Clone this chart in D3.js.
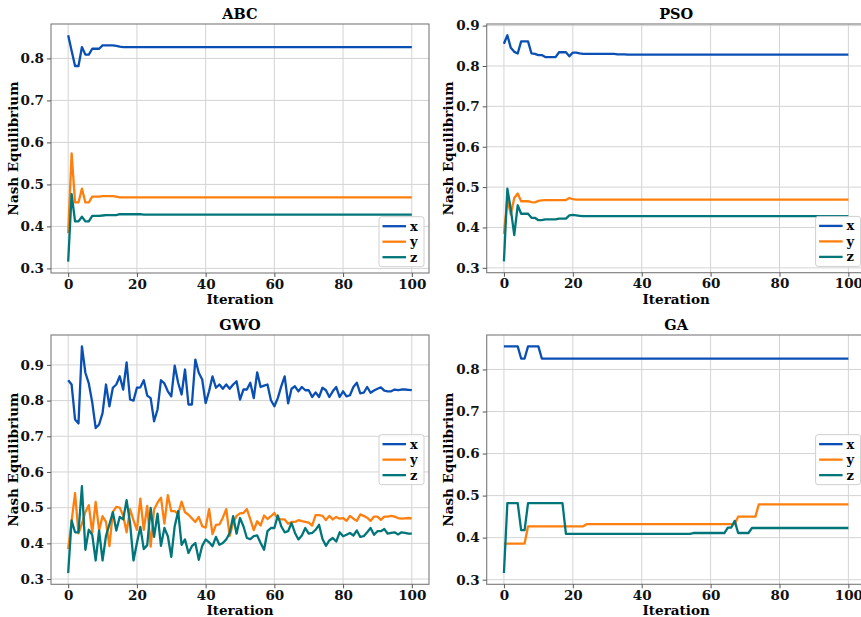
<!DOCTYPE html>
<html><head><meta charset="utf-8">
<script src="https://cdn.jsdelivr.net/npm/d3@7"></script>
<style>
body{margin:0;background:#fff;}
svg{display:block;}
text{font-family:"DejaVu Serif",serif;font-weight:bold;}
</style>
</head><body>
<svg id="c" width="861" height="617"></svg>
<script>
// ---------------- DATA ----------------
const iterations = d3.range(0, 101);
const xTickValues = [0, 20, 40, 60, 80, 100];
const yTickValues = [0.3, 0.4, 0.5, 0.6, 0.7, 0.8, 0.9];
const seriesNames = ["x", "y", "z"];
const panelTitles = ["ABC", "PSO", "GWO", "GA"];
const xLabel = "Iteration";
const yLabel = "Nash Equilibrium";

const abcX = [
0.855,0.818,0.782,0.782,0.827,0.809,0.809,0.823,0.823,0.823,
0.831,0.831,0.831,0.831,0.830,0.828,0.827,0.827,0.827,0.827,
0.827,0.827,0.827,0.827,0.827,0.827,0.827,0.827,0.827,0.827,
0.827,0.827,0.827,0.827,0.827,0.827,0.827,0.827,0.827,0.827,
0.827,0.827,0.827,0.827,0.827,0.827,0.827,0.827,0.827,0.827,
0.827,0.827,0.827,0.827,0.827,0.827,0.827,0.827,0.827,0.827,
0.827,0.827,0.827,0.827,0.827,0.827,0.827,0.827,0.827,0.827,
0.827,0.827,0.827,0.827,0.827,0.827,0.827,0.827,0.827,0.827,
0.827,0.827,0.827,0.827,0.827,0.827,0.827,0.827,0.827,0.827,
0.827,0.827,0.827,0.827,0.827,0.827,0.827,0.827,0.827,0.827,
0.827];
const abcY = [
0.384,0.574,0.457,0.457,0.490,0.457,0.457,0.471,0.471,0.471,
0.472,0.472,0.472,0.472,0.471,0.469,0.469,0.469,0.469,0.469,
0.469,0.469,0.469,0.469,0.469,0.469,0.469,0.469,0.469,0.469,
0.469,0.469,0.469,0.469,0.469,0.469,0.469,0.469,0.469,0.469,
0.469,0.469,0.469,0.469,0.469,0.469,0.469,0.469,0.469,0.469,
0.469,0.469,0.469,0.469,0.469,0.469,0.469,0.469,0.469,0.469,
0.469,0.469,0.469,0.469,0.469,0.469,0.469,0.469,0.469,0.469,
0.469,0.469,0.469,0.469,0.469,0.469,0.469,0.469,0.469,0.469,
0.469,0.469,0.469,0.469,0.469,0.469,0.469,0.469,0.469,0.469,
0.469,0.469,0.469,0.469,0.469,0.469,0.469,0.469,0.469,0.469,
0.469];
const abcZ = [
0.316,0.477,0.412,0.412,0.423,0.412,0.412,0.425,0.425,0.425,
0.426,0.427,0.427,0.427,0.427,0.429,0.429,0.429,0.429,0.429,
0.429,0.429,0.428,0.428,0.428,0.428,0.428,0.428,0.428,0.428,
0.428,0.428,0.428,0.428,0.428,0.428,0.428,0.428,0.428,0.428,
0.428,0.428,0.428,0.428,0.428,0.428,0.428,0.428,0.428,0.428,
0.428,0.428,0.428,0.428,0.428,0.428,0.428,0.428,0.428,0.428,
0.428,0.428,0.428,0.428,0.428,0.428,0.428,0.428,0.428,0.428,
0.428,0.428,0.428,0.428,0.428,0.428,0.428,0.428,0.428,0.428,
0.428,0.428,0.428,0.428,0.428,0.428,0.428,0.428,0.428,0.428,
0.428,0.428,0.428,0.428,0.428,0.428,0.428,0.428,0.428,0.428,
0.428];

const psoX = [
0.855,0.876,0.845,0.835,0.831,0.861,0.861,0.861,0.831,0.830,
0.827,0.827,0.822,0.822,0.822,0.822,0.834,0.834,0.834,0.824,
0.833,0.833,0.831,0.830,0.830,0.830,0.830,0.830,0.830,0.830,
0.830,0.830,0.830,0.829,0.829,0.829,0.828,0.828,0.828,0.828,
0.828,0.828,0.828,0.828,0.828,0.828,0.828,0.828,0.828,0.828,
0.828,0.828,0.828,0.828,0.828,0.828,0.828,0.828,0.828,0.828,
0.828,0.828,0.828,0.828,0.828,0.828,0.828,0.828,0.828,0.828,
0.828,0.828,0.828,0.828,0.828,0.828,0.828,0.828,0.828,0.828,
0.828,0.828,0.828,0.828,0.828,0.828,0.828,0.828,0.828,0.828,
0.828,0.828,0.828,0.828,0.828,0.828,0.828,0.828,0.828,0.828,
0.828];
const psoY = [
0.384,0.470,0.432,0.473,0.484,0.465,0.465,0.465,0.463,0.462,
0.466,0.467,0.468,0.468,0.468,0.468,0.468,0.468,0.468,0.473,
0.470,0.469,0.469,0.469,0.469,0.469,0.469,0.469,0.469,0.469,
0.469,0.469,0.469,0.469,0.469,0.469,0.469,0.469,0.469,0.469,
0.469,0.469,0.469,0.469,0.469,0.469,0.469,0.469,0.469,0.469,
0.469,0.469,0.469,0.469,0.469,0.469,0.469,0.469,0.469,0.469,
0.469,0.469,0.469,0.469,0.469,0.469,0.469,0.469,0.469,0.469,
0.469,0.469,0.469,0.469,0.469,0.469,0.469,0.469,0.469,0.469,
0.469,0.469,0.469,0.469,0.469,0.469,0.469,0.469,0.469,0.469,
0.469,0.469,0.469,0.469,0.469,0.469,0.469,0.469,0.469,0.469,
0.469];
const psoZ = [
0.316,0.496,0.445,0.381,0.455,0.434,0.434,0.434,0.424,0.424,
0.418,0.418,0.420,0.420,0.420,0.420,0.422,0.422,0.422,0.430,
0.431,0.430,0.429,0.428,0.428,0.428,0.428,0.428,0.428,0.428,
0.428,0.428,0.428,0.428,0.428,0.428,0.428,0.428,0.428,0.428,
0.428,0.428,0.428,0.428,0.428,0.428,0.428,0.428,0.428,0.428,
0.428,0.428,0.428,0.428,0.428,0.428,0.428,0.428,0.428,0.428,
0.428,0.428,0.428,0.428,0.428,0.428,0.428,0.428,0.428,0.428,
0.428,0.428,0.428,0.428,0.428,0.428,0.428,0.428,0.428,0.428,
0.428,0.428,0.428,0.428,0.428,0.428,0.428,0.428,0.428,0.428,
0.428,0.428,0.428,0.428,0.428,0.428,0.428,0.428,0.428,0.428,
0.428];

const gwoX = [
0.857,0.845,0.747,0.736,0.952,0.878,0.848,0.795,0.723,0.733,
0.765,0.845,0.784,0.836,0.845,0.868,0.831,0.907,0.803,0.800,
0.836,0.837,0.857,0.814,0.807,0.742,0.775,0.857,0.848,0.826,
0.812,0.898,0.850,0.817,0.887,0.789,0.789,0.915,0.878,0.859,
0.793,0.826,0.868,0.836,0.845,0.833,0.845,0.833,0.845,0.854,
0.803,0.831,0.831,0.850,0.807,0.879,0.838,0.842,0.845,0.801,
0.784,0.807,0.840,0.868,0.792,0.833,0.840,0.826,0.838,0.829,
0.829,0.810,0.823,0.810,0.836,0.829,0.810,0.826,0.838,0.810,
0.826,0.812,0.815,0.838,0.850,0.820,0.822,0.838,0.822,0.828,
0.833,0.837,0.828,0.826,0.826,0.831,0.829,0.831,0.831,0.830,
0.829];
const gwoY = [
0.384,0.462,0.541,0.428,0.455,0.488,0.507,0.430,0.516,0.437,
0.476,0.460,0.392,0.488,0.502,0.500,0.478,0.431,0.496,0.465,
0.438,0.525,0.438,0.505,0.391,0.495,0.514,0.528,0.455,0.535,
0.490,0.490,0.482,0.517,0.487,0.480,0.470,0.460,0.474,0.448,
0.444,0.496,0.426,0.452,0.453,0.472,0.496,0.421,0.458,0.477,
0.484,0.485,0.496,0.468,0.437,0.462,0.450,0.478,0.468,0.476,
0.485,0.468,0.467,0.467,0.455,0.460,0.460,0.465,0.462,0.460,
0.458,0.450,0.479,0.479,0.477,0.465,0.477,0.467,0.474,0.469,
0.471,0.463,0.477,0.469,0.463,0.481,0.477,0.472,0.463,0.475,
0.475,0.466,0.475,0.475,0.477,0.475,0.471,0.469,0.470,0.471,
0.470];
const gwoZ = [
0.317,0.464,0.431,0.431,0.560,0.382,0.438,0.424,0.352,0.436,
0.352,0.421,0.453,0.487,0.436,0.474,0.467,0.521,0.457,0.352,
0.401,0.446,0.384,0.395,0.499,0.418,0.483,0.393,0.443,0.420,
0.362,0.448,0.490,0.396,0.411,0.373,0.392,0.401,0.354,0.393,
0.411,0.403,0.392,0.418,0.396,0.401,0.411,0.429,0.476,0.427,
0.471,0.448,0.415,0.412,0.420,0.422,0.401,0.382,0.434,0.443,
0.443,0.478,0.448,0.431,0.434,0.457,0.429,0.411,0.422,0.443,
0.427,0.429,0.438,0.452,0.412,0.393,0.408,0.415,0.405,0.431,
0.420,0.424,0.429,0.422,0.436,0.418,0.420,0.431,0.443,0.424,
0.434,0.434,0.440,0.427,0.429,0.431,0.425,0.431,0.429,0.427,
0.427];

const gaX = [
0.855,0.855,0.855,0.855,0.855,0.826,0.826,0.855,0.855,0.855,
0.855,0.826,0.826,0.826,0.826,0.826,0.826,0.826,0.826,0.826,
0.826,0.826,0.826,0.826,0.826,0.826,0.826,0.826,0.826,0.826,
0.826,0.826,0.826,0.826,0.826,0.826,0.826,0.826,0.826,0.826,
0.826,0.826,0.826,0.826,0.826,0.826,0.826,0.826,0.826,0.826,
0.826,0.826,0.826,0.826,0.826,0.826,0.826,0.826,0.826,0.826,
0.826,0.826,0.826,0.826,0.826,0.826,0.826,0.826,0.826,0.826,
0.826,0.826,0.826,0.826,0.826,0.826,0.826,0.826,0.826,0.826,
0.826,0.826,0.826,0.826,0.826,0.826,0.826,0.826,0.826,0.826,
0.826,0.826,0.826,0.826,0.826,0.826,0.826,0.826,0.826,0.826,
0.826];
const gaY = [
0.386,0.386,0.386,0.386,0.386,0.386,0.386,0.427,0.427,0.427,
0.427,0.427,0.427,0.427,0.427,0.427,0.427,0.427,0.427,0.427,
0.427,0.427,0.427,0.427,0.432,0.432,0.432,0.432,0.432,0.432,
0.432,0.432,0.432,0.432,0.432,0.432,0.432,0.432,0.432,0.432,
0.432,0.432,0.432,0.432,0.432,0.432,0.432,0.432,0.432,0.432,
0.432,0.432,0.432,0.432,0.432,0.432,0.432,0.432,0.432,0.432,
0.432,0.432,0.432,0.432,0.432,0.432,0.432,0.432,0.450,0.450,
0.450,0.450,0.450,0.450,0.479,0.479,0.479,0.479,0.479,0.479,
0.479,0.479,0.479,0.479,0.479,0.479,0.479,0.479,0.479,0.479,
0.479,0.479,0.479,0.479,0.479,0.479,0.479,0.479,0.479,0.479,
0.479];
const gaZ = [
0.316,0.482,0.482,0.482,0.482,0.418,0.418,0.482,0.482,0.482,
0.482,0.482,0.482,0.482,0.482,0.482,0.482,0.482,0.409,0.409,
0.409,0.409,0.409,0.409,0.409,0.409,0.409,0.409,0.409,0.409,
0.409,0.409,0.409,0.409,0.409,0.409,0.409,0.409,0.409,0.409,
0.409,0.409,0.409,0.409,0.409,0.409,0.409,0.409,0.409,0.409,
0.409,0.409,0.409,0.409,0.409,0.411,0.411,0.411,0.411,0.411,
0.411,0.411,0.411,0.411,0.411,0.424,0.424,0.440,0.411,0.411,
0.411,0.411,0.423,0.423,0.423,0.423,0.423,0.423,0.423,0.423,
0.423,0.423,0.423,0.423,0.423,0.423,0.423,0.423,0.423,0.423,
0.423,0.423,0.423,0.423,0.423,0.423,0.423,0.423,0.423,0.423,
0.423];

// ---------------- STYLE / LAYOUT ----------------
const colors = ["#0a4fb4", "#ff7f0e", "#00767a"];
const layouts = [
  {l: 51,    r: 429,   t: 24,  b: 273,   legend: "lower"},
  {l: 486.7, r: 865.6, t: 24,  b: 272.7, legend: "lower"},
  {l: 51,    r: 429,   t: 335, b: 584.3, legend: "center"},
  {l: 486.7, r: 865.6, t: 335, b: 584.3, legend: "center"}
];
const panelData = [[abcX, abcY, abcZ], [psoX, psoY, psoZ], [gwoX, gwoY, gwoZ], [gaX, gaY, gaZ]];

const svg = d3.select("#c");
svg.append("rect").attr("width", 861).attr("height", 617).attr("fill", "#fff");

panelData.forEach((series, i) => {
  const p = layouts[i];
  const g = svg.append("g");
  const x = d3.scaleLinear().domain([-5, 105]).range([p.l, p.r]);
  const [mn, mx] = d3.extent(series.flat());
  const pad = (mx - mn) * 0.05;
  const y = d3.scaleLinear().domain([mn - pad, mx + pad]).range([p.b, p.t]);
  const yt = yTickValues.filter(v => v >= y.domain()[0] && v <= y.domain()[1]);

  // grid
  const grid = g.append("g").attr("stroke", "#d4d4d4").attr("stroke-width", 1);
  grid.selectAll("line.gx").data(xTickValues).join("line")
    .attr("x1", d => x(d)).attr("x2", d => x(d)).attr("y1", p.t).attr("y2", p.b);
  grid.selectAll("line.gy").data(yt).join("line")
    .attr("x1", p.l).attr("x2", p.r).attr("y1", d => y(d)).attr("y2", d => y(d));

  // lines
  const line = d3.line().x((d, k) => x(iterations[k])).y(d => y(d));
  series.forEach((s, k) => {
    g.append("path").datum(s).attr("d", line).attr("fill", "none")
      .attr("stroke", colors[k]).attr("stroke-width", 2.3).attr("stroke-linejoin", "round");
  });

  // spines
  g.append("rect").attr("x", p.l).attr("y", p.t).attr("width", p.r - p.l).attr("height", p.b - p.t)
    .attr("fill", "none").attr("stroke", "#7a7a7a").attr("stroke-width", 1.1);

  // axes
  const ax = g.append("g").attr("transform", `translate(0,${p.b})`)
    .call(d3.axisBottom(x).tickValues(xTickValues).tickSize(4).tickPadding(2).tickFormat(d3.format("d")));
  const ay = g.append("g").attr("transform", `translate(${p.l},0)`)
    .call(d3.axisLeft(y).tickValues(yt).tickSize(4).tickPadding(3).tickFormat(d3.format(".1f")));
  [ax, ay].forEach(a => {
    a.attr("font-family", null).attr("font-size", null);
    a.select(".domain").remove();
    a.selectAll(".tick line").attr("stroke", "#555");
    a.selectAll(".tick text").attr("font-size", 13.5).attr("fill", "#111")
      .attr("font-family", "DejaVu Serif").attr("font-weight", "bold");
  });

  // title and labels
  const cx = (p.l + p.r) / 2, cy = (p.t + p.b) / 2;
  g.append("text").attr("x", cx).attr("y", p.t - 5).attr("text-anchor", "middle")
    .attr("font-size", 14.5).text(panelTitles[i]);
  g.append("text").attr("x", cx).attr("y", p.b + 31).attr("text-anchor", "middle")
    .attr("font-size", 13.5).text(xLabel);
  g.append("text").attr("transform", `translate(${p.l - 37},${cy}) rotate(-90)`)
    .attr("text-anchor", "middle").attr("dominant-baseline", "middle")
    .attr("font-size", 13.5).text(yLabel);

  // legend
  const lw = 45, lh = 50;
  const lx = p.r - 5 - lw;
  const ly = p.legend === "lower" ? p.b - 6.3 - lh : cy - lh / 2;
  const lg = g.append("g").attr("transform", `translate(${lx},${ly})`);
  lg.append("rect").attr("width", lw).attr("height", lh).attr("rx", 2.5)
    .attr("fill", "#fff").attr("fill-opacity", 0.85).attr("stroke", "#d0d0d0").attr("stroke-width", 1);
  seriesNames.forEach((name, k) => {
    const ry = 9.5 + k * 15.5;
    lg.append("line").attr("x1", 3.5).attr("x2", 27).attr("y1", ry).attr("y2", ry)
      .attr("stroke", colors[k]).attr("stroke-width", 2.3);
    lg.append("text").attr("x", 31).attr("y", ry).attr("dominant-baseline", "central")
      .attr("font-size", 13).text(name);
  });
});
</script>
</body></html>
